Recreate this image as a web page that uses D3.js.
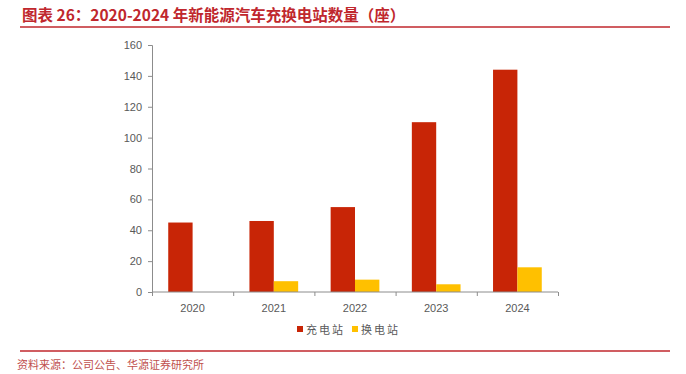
<!DOCTYPE html>
<html>
<head>
<meta charset="utf-8">
<script src="https://cdn.jsdelivr.net/npm/d3@7"></script>
<style>
  body { margin: 0; background: #fff; }
  svg { display: block; }
</style>
</head>
<body>
<div id="chart"></div>
<script>
const years = ["2020", "2021", "2022", "2023", "2024"];
const chargeStations = [45, 46, 55, 110, 144];   // 充电站
const swapStations = [0, 7, 8, 5, 16];           // 换电站
const seriesNames = ["充电站", "换电站"];
const yTicks = [0, 20, 40, 60, 80, 100, 120, 140, 160];

const width = 686, height = 374;
const colors = ["#C82506", "#FFC000"];
const red = "#C0272D";

const svg = d3.select("#chart").append("svg")
    .attr("width", width).attr("height", height);

// title + rules
svg.append("text")
    .attr("x", 22).attr("y", 21)
    .attr("font-family", "Noto Sans CJK SC")
    .attr("font-weight", "bold")
    .attr("font-size", "15.5px")
    .attr("fill", red)
    .text("图表 26：2020-2024 年新能源汽车充换电站数量（座）");

svg.append("line").attr("x1", 20).attr("x2", 670).attr("y1", 27).attr("y2", 27)
    .attr("stroke", red).attr("stroke-width", 1.5);
svg.append("line").attr("x1", 20).attr("x2", 670).attr("y1", 351).attr("y2", 351)
    .attr("stroke", red).attr("stroke-width", 1.5);

svg.append("text")
    .attr("x", 17).attr("y", 369)
    .attr("font-family", "Noto Sans CJK SC")
    .attr("font-size", "11px")
    .attr("fill", "#C0504D")
    .text("资料来源：公司公告、华源证券研究所");

// scales
const x = d3.scaleBand().domain(years).range([152, 558]).paddingInner(0.4).paddingOuter(0.2);
const y = d3.scaleLinear().domain([0, 160]).range([292, 45]);

const data = years.map((yr, i) => ({ year: yr, values: [chargeStations[i], swapStations[i]] }));
const xSub = d3.scaleBand().domain([0, 1]).range([0, x.bandwidth()]);

const groups = svg.append("g").selectAll("g")
    .data(data).join("g")
    .attr("transform", d => `translate(${x(d.year)},0)`);

groups.selectAll("rect")
    .data(d => d.values.map((v, k) => ({ v, k })))
    .join("rect")
    .attr("x", d => xSub(d.k))
    .attr("width", xSub.bandwidth())
    .attr("y", d => y(d.v))
    .attr("height", d => y(0) - y(d.v))
    .attr("fill", d => colors[d.k]);

// axes
const axisColor = "#8c8c8c";
svg.append("g")
    .attr("transform", "translate(152,0)")
    .call(d3.axisLeft(y).tickValues(yTicks).tickSize(4).tickPadding(6));

const xTickScale = d3.scalePoint().domain(d3.range(years.length + 1)).range([152, 558]);
const xAxis = svg.append("g")
    .attr("transform", "translate(0,292)")
    .call(d3.axisBottom(xTickScale).tickSize(4).tickFormat(""));
xAxis.select(".domain").attr("d", "M152,0H558");

svg.append("g")
    .attr("transform", "translate(0,292)")
    .call(d3.axisBottom(x).tickSize(0).tickPadding(12))
    .select(".domain").remove();

svg.selectAll(".tick text")
    .attr("font-family", "Liberation Sans, Arial, sans-serif")
    .attr("font-size", "11px")
    .attr("fill", "#595959");
svg.selectAll(".domain, .tick line").attr("stroke", axisColor);

// legend
const legend = svg.append("g").attr("transform", "translate(297,330)");
const legendX = [0, 55];
seriesNames.forEach((name, k) => {
    const g = legend.append("g").attr("transform", `translate(${legendX[k]},0)`);
    g.append("rect").attr("x", 0).attr("y", -4).attr("width", 6).attr("height", 6)
        .attr("fill", colors[k]);
    g.append("text").attr("x", 9).attr("y", 4)
        .attr("font-family", "Noto Sans CJK SC")
        .attr("font-size", "11px")
        .attr("letter-spacing", "2px")
        .attr("fill", "#595959")
        .text(name);
});
</script>
</body>
</html>
